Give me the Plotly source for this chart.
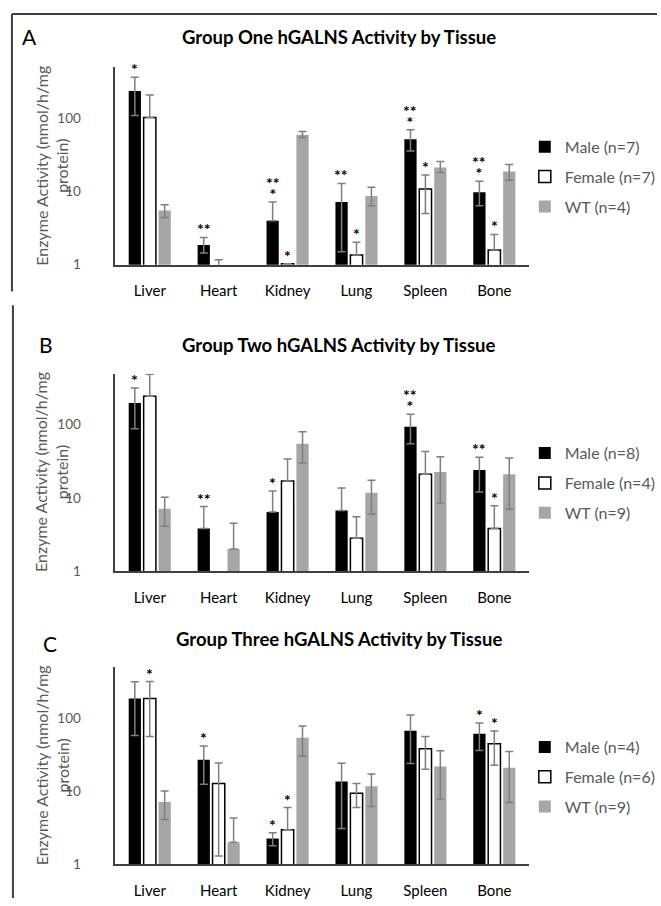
import math
import plotly.graph_objects as go

# ---------------- data ----------------
categories = ["Liver", "Heart", "Kidney", "Lung", "Spleen", "Bone"]
y_tick_vals = [1, 10, 100]
y_tick_text = ["1", "10", "100"]
y_max = 500

panel_letters = ["A", "B", "C"]
panel_titles = [
    "Group One hGALNS Activity by Tissue",
    "Group Two hGALNS Activity by Tissue",
    "Group Three hGALNS Activity by Tissue",
]
y_title = "Enzyme Activity (nmol/h/mg<br>protein)"

# Group One
g1_labels = ["Male (n=7)", "Female (n=7)", "WT (n=4)"]
g1_male = [238, 1.86, 4.0, 7.2, 52, 9.8]
g1_male_up = [128, 0.5, 3.2, 5.7, 18, 4.0]
g1_male_dn = [128, 0.42, 0, 5.7, 16, 3.4]
g1_female = [103, 0.5, 1.03, 1.36, 10.8, 1.59]
g1_female_up = [107, 0.67, 0, 0.67, 6.0, 1.0]
g1_female_dn = [0, 0, 0, 0, 5.8, 0]
g1_wt = [5.5, None, 60, 8.7, 21.3, 18.8]
g1_wt_up = [1.1, 0, 6.5, 2.8, 4.4, 4.6]
g1_wt_dn = [1.1, 0, 5.0, 2.3, 3.0, 4.5]
g1_male_sig = ["*", "**", "**|*", "**", "**|*", "**|*"]
g1_female_sig = ["", "", "*", "*", "*", "*"]
g1_wt_sig = ["", "", "", "", "", ""]

# Group Two
g2_labels = ["Male (n=8)", "Female (n=4)", "WT (n=9)"]
g2_male = [199, 3.8, 6.4, 6.7, 94, 24]
g2_male_up = [120, 3.8, 6.0, 6.9, 45, 12]
g2_male_dn = [111, 0, 0, 0, 39, 12]
g2_female = [246, None, 17, 2.8, 21, 3.8]
g2_female_up = [244, 0, 17, 2.7, 22, 4.0]
g2_female_dn = [0, 0, 0, 0, 0, 0]
g2_wt = [7.1, 2.0, 55, 11.7, 22.5, 21]
g2_wt_up = [3.1, 2.5, 25, 5.7, 14, 14]
g2_wt_dn = [3.0, 0, 25, 5.7, 14, 14]
g2_male_sig = ["*", "**", "*", "", "**|*", "**"]
g2_female_sig = ["", "", "", "", "", "*"]
g2_wt_sig = ["", "", "", "", "", ""]

# Group Three
g3_labels = ["Male (n=4)", "Female (n=6)", "WT (n=9)"]
g3_male = [186, 27, 2.25, 13.6, 67, 61]
g3_male_up = [128, 14.5, 0.45, 10.5, 43, 25]
g3_male_dn = [128, 14.5, 0.45, 10.5, 43, 25]
g3_female = [186, 12.8, 2.97, 9.4, 38, 44.6]
g3_female_up = [130, 11.5, 3.0, 3.4, 18, 22]
g3_female_dn = [130, 11.5, 0, 3.4, 18, 22]
g3_wt = [7.1, 2.0, 54, 11.7, 21.8, 21]
g3_wt_up = [3.0, 2.3, 24, 5.5, 14, 14]
g3_wt_dn = [3.0, 0, 24, 5.5, 14, 14]
g3_male_sig = ["", "*", "*", "", "", "*"]
g3_female_sig = ["*", "", "*", "", "", "*"]
g3_wt_sig = ["", "", "", "", "", ""]

groups = [
    (g1_labels, [(g1_male, g1_male_up, g1_male_dn, g1_male_sig),
                 (g1_female, g1_female_up, g1_female_dn, g1_female_sig),
                 (g1_wt, g1_wt_up, g1_wt_dn, g1_wt_sig)]),
    (g2_labels, [(g2_male, g2_male_up, g2_male_dn, g2_male_sig),
                 (g2_female, g2_female_up, g2_female_dn, g2_female_sig),
                 (g2_wt, g2_wt_up, g2_wt_dn, g2_wt_sig)]),
    (g3_labels, [(g3_male, g3_male_up, g3_male_dn, g3_male_sig),
                 (g3_female, g3_female_up, g3_female_dn, g3_female_sig),
                 (g3_wt, g3_wt_up, g3_wt_dn, g3_wt_sig)]),
]

# ---------------- style / layout ----------------
W, H = 661, 906
FONT = "Lato, 'Open Sans', sans-serif"
GREY_TXT = "#595959"
AXIS_COL = "#404040"
ERR_COL = "#7f7f7f"
fills = ["#000000", "#ffffff", "#a6a6a6"]
lines = ["#000000", "#000000", "#a6a6a6"]
line_w = [0, 1.5, 0]

plot_left, plot_right = 116, 532
plot_tops = [68, 377, 673]
plot_bottoms = [267, 576, 872]
title_ys = [37, 348, 645]
letter_pos = [(30, 37), (46, 348), (50, 649)]
legend_cy = [178.5, 487.5, 784]
legend_left = 528
ytitle_x = 52
bar_shift = [-15, 0, 15]
STAR_SIZE = 16      # glyph size of the asterisks
STAR_LINE = 8.5     # base font size -> sets the line spacing between star rows


def px_x(v):
    return v / W


def px_y(v):
    return 1 - v / H


def star_text(s):
    rows = s.split("|")
    return "<br>".join(
        f"<span style='font-size:{STAR_SIZE}px'><b>{r}</b></span>" for r in rows
    )


fig = go.Figure()
annotations = []

for gi, (labels, series) in enumerate(groups):
    sfx = "" if gi == 0 else str(gi + 1)
    xa, ya = "x" + sfx, "y" + sfx
    leg = "legend" + sfx
    for si, (vals, up, dn, sig) in enumerate(series):
        fig.add_trace(go.Bar(
            x=categories, y=vals, name=labels[si],
            xaxis=xa, yaxis=ya, legend=leg,
            legendgroup=f"g{gi}s{si}",
            marker=dict(color=fills[si], line=dict(color=lines[si], width=line_w[si])),
            error_y=dict(type="data", symmetric=False, array=up, arrayminus=dn,
                         color=ERR_COL, thickness=1.5, width=4),
            hoverinfo="skip",
        ))
        # significance asterisks above error bars
        for ci, s in enumerate(sig):
            if not s or vals[ci] is None:
                continue
            top = vals[ci] + up[ci]
            annotations.append(dict(
                x=categories[ci], y=math.log10(top), xref=xa, yref=ya,
                text=star_text(s), showarrow=False, xshift=bar_shift[si],
                yshift=-2, yanchor="bottom", borderpad=0,
                font=dict(family=FONT, size=STAR_LINE, color="#000000"),
            ))

    dom_y = [px_y(plot_bottoms[gi]), px_y(plot_tops[gi])]
    fig.layout["xaxis" + sfx] = dict(
        domain=[px_x(plot_left), px_x(plot_right)], anchor=ya,
        type="category", showline=True, linecolor=AXIS_COL, linewidth=1.5,
        showgrid=False, ticks="", ticklabelstandoff=12,
        tickfont=dict(family=FONT, size=15, color="#000000"),
        fixedrange=True,
    )
    fig.layout["yaxis" + sfx] = dict(
        domain=dom_y, anchor=xa, type="log",
        range=[0, math.log10(y_max)], showline=True, linecolor=AXIS_COL,
        linewidth=1.5, showgrid=False, zeroline=False, ticks="",
        tickvals=y_tick_vals, ticktext=y_tick_text, ticklabelstandoff=30,
        tickfont=dict(family=FONT, size=13.5, color=GREY_TXT),
        fixedrange=True,
    )
    fig.layout[leg] = dict(
        x=px_x(legend_left), xanchor="left", y=px_y(legend_cy[gi]), yanchor="middle",
        font=dict(family=FONT, size=16, color=GREY_TXT),
        tracegroupgap=6, itemwidth=30, bgcolor="rgba(0,0,0,0)",
        borderwidth=0,
    )
    # panel title
    annotations.append(dict(
        x=px_x(341), y=px_y(title_ys[gi]), xref="paper", yref="paper",
        text="<b>" + panel_titles[gi] + "</b>", showarrow=False,
        xanchor="center", yanchor="middle",
        font=dict(family=FONT, size=18.5, color="#000000"),
    ))
    # panel letter
    annotations.append(dict(
        x=px_x(letter_pos[gi][0]), y=px_y(letter_pos[gi][1]),
        xref="paper", yref="paper", text=panel_letters[gi], showarrow=False,
        xanchor="center", yanchor="middle",
        font=dict(family=FONT, size=21, color="#000000"),
    ))
    # y axis title
    annotations.append(dict(
        x=px_x(ytitle_x), y=(dom_y[0] + dom_y[1]) / 2,
        xref="paper", yref="paper", text=y_title, showarrow=False,
        textangle=-90, xanchor="center", yanchor="middle",
        font=dict(family=FONT, size=16, color=GREY_TXT),
    ))

# panel frames
frame = dict(color=AXIS_COL, width=2)
shapes = [
    dict(type="line", xref="paper", yref="paper", x0=px_x(12), x1=1.0,
         y0=px_y(14), y1=px_y(14), line=frame),
    dict(type="line", xref="paper", yref="paper", x0=px_x(12), x1=px_x(12),
         y0=px_y(14), y1=px_y(294), line=frame),
    dict(type="line", xref="paper", yref="paper", x0=px_x(13), x1=px_x(13),
         y0=px_y(308), y1=0.0, line=frame),
]

fig.update_layout(
    width=W, height=H, margin=dict(l=0, r=0, t=0, b=0),
    paper_bgcolor="#ffffff", plot_bgcolor="#ffffff",
    barmode="group", bargap=0.35, bargroupgap=0.18,
    showlegend=True, annotations=annotations, shapes=shapes,
    font=dict(family=FONT),
)

fig.write_html(
    "out.html",
    config={"displayModeBar": False},
    post_script="document.body.style.margin='0';document.body.style.overflow='hidden';",
)
